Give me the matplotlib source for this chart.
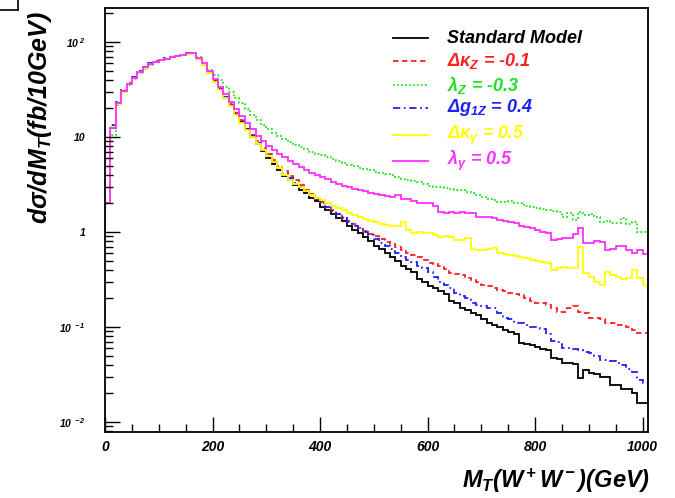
import numpy as np
import matplotlib
matplotlib.use("Agg")
import matplotlib.pyplot as plt
from matplotlib.lines import Line2D

plt.rcParams['font.family'] = ['Liberation Sans', 'DejaVu Sans']
plt.rcParams['font.weight'] = 'bold'
plt.rcParams['font.style'] = 'italic'
plt.rcParams['mathtext.fontset'] = 'custom'
plt.rcParams['mathtext.rm'] = 'Liberation Sans:italic:bold'
plt.rcParams['mathtext.it'] = 'Liberation Sans:italic:bold'
plt.rcParams['mathtext.bf'] = 'Liberation Sans:italic:bold'

# 10 GeV bins, 0 - 1010 GeV
bin_edges = np.arange(0, 1011, 10)

sm = [2.0, 12.5, 22.8, 30.5, 36, 42, 48, 54, 58.7, 61.6, 64.6, 67, 69.5, 71.5, 73, 76, 77,
      66, 57, 47, 39, 32, 26, 21.5, 17.5, 14.5, 12, 10, 8.4, 7.1, 6.0, 5.2, 4.5, 3.9, 3.5,
      3.1, 2.8, 2.55, 2.3, 2.1, 1.85, 1.7, 1.55, 1.42, 1.3, 1.15, 1.05, 0.97, 0.89, 0.8,
      0.72, 0.66, 0.6, 0.55, 0.5, 0.44, 0.41, 0.38, 0.32, 0.30, 0.27, 0.26, 0.24, 0.22,
      0.19, 0.18, 0.16, 0.15, 0.14, 0.135, 0.12, 0.11, 0.105, 0.1, 0.093, 0.089, 0.085,
      0.068, 0.066, 0.065, 0.062, 0.058, 0.057, 0.047, 0.046, 0.042, 0.042, 0.041, 0.029,
      0.035, 0.033, 0.032, 0.03, 0.03, 0.0245, 0.0245, 0.0225, 0.0225, 0.02, 0.016, 0.016]

dkz = [2.0, 12.5, 22.5, 30.5, 36.5, 42, 48.5, 54, 58, 62, 64.5, 67, 69, 71.5, 73.5, 76, 76.5,
       66, 57, 48, 39.5, 32.5, 26.5, 22, 18, 15, 12.6, 10.6, 9.0, 7.7, 6.6, 5.7, 5.0, 4.4,
       3.9, 3.5, 3.1, 2.8, 2.5, 2.25, 2.05, 1.85, 1.7, 1.55, 1.42, 1.3, 1.2, 1.1, 1.03,
       0.96, 0.9, 0.84, 0.79, 0.74, 0.69, 0.64, 0.6, 0.57, 0.54, 0.51, 0.47, 0.46, 0.44,
       0.41, 0.37, 0.36, 0.35, 0.33, 0.31, 0.30, 0.28, 0.27, 0.26, 0.245, 0.24, 0.23, 0.22,
       0.215, 0.2, 0.19, 0.18, 0.18, 0.17, 0.16, 0.145, 0.145, 0.16, 0.165, 0.145, 0.14,
       0.125, 0.125, 0.12, 0.11, 0.11, 0.105, 0.105, 0.1, 0.093, 0.087, 0.087]

lz = [2.0, 10.5, 21.5, 29.5, 35.5, 41, 47, 52.5, 57.5, 61, 64, 66.5, 69, 71, 73, 75.5, 77,
      69, 60, 51, 45, 40, 34, 30, 26, 23, 19.5, 17, 15, 13.4, 12, 11, 10.3, 9.5, 8.9,
      8.2, 7.8, 7.4, 7.0, 6.7, 6.4, 6.1, 5.9, 5.6, 5.3, 5.1, 4.9, 4.75, 4.6, 4.5, 4.3,
      4.2, 4.05, 3.95, 3.8, 3.65, 3.5, 3.45, 3.36, 3.2, 3.05, 3.0, 2.97, 2.9, 2.85, 2.8,
      2.77, 2.65, 2.55, 2.45, 2.35, 2.25, 2.15, 2.07, 2.05, 2.1, 2.0, 2.02, 1.9, 1.85,
      1.79, 1.75, 1.7, 1.65, 1.62, 1.45, 1.6, 1.34, 1.62, 1.5, 1.55, 1.45, 1.27, 1.3,
      1.25, 1.25, 1.4, 1.2, 1.27, 1.0, 1.0]

dg1z = [2.0, 13.5, 23.5, 31, 37, 43, 49.5, 55, 59.5, 62.5, 65, 67.5, 70, 72, 73.5, 76, 76.5,
        66, 57, 47.5, 39, 32, 26.5, 21.5, 17.7, 14.7, 12.2, 10.2, 8.6, 7.3, 6.2, 5.4, 4.7,
        4.1, 3.7, 3.3, 3.0, 2.7, 2.45, 2.25, 2.0, 1.85, 1.68, 1.55, 1.43, 1.28, 1.17, 1.08,
        1.0, 0.92, 0.84, 0.77, 0.71, 0.66, 0.6, 0.55, 0.51, 0.48, 0.44, 0.42, 0.38, 0.34,
        0.3, 0.28, 0.26, 0.23, 0.21, 0.2, 0.18, 0.17, 0.165, 0.16, 0.16, 0.14, 0.125, 0.12,
        0.11, 0.11, 0.105, 0.1, 0.1, 0.095, 0.085, 0.072, 0.07, 0.06, 0.06, 0.058, 0.057,
        0.055, 0.053, 0.05, 0.045, 0.045, 0.044, 0.042, 0.04, 0.036, 0.034, 0.028, 0.026]

dkg = [2.0, 12.8, 22.5, 30, 36, 42, 48, 53.5, 58.5, 61.5, 64.5, 67, 69, 71, 73, 75.5, 76.5,
       66, 57, 47, 38, 31, 25.5, 21, 17.2, 14.2, 11.8, 9.9, 8.4, 7.3, 6.3, 5.5, 4.7, 4.0,
       3.5, 3.2, 2.95, 2.7, 2.45, 2.3, 2.15, 2.0, 1.9, 1.8, 1.7, 1.6, 1.5, 1.45, 1.38,
       1.32, 1.27, 1.22, 1.19, 1.17, 1.15, 1.28, 1.05, 0.97, 1.0, 0.98, 0.97, 0.93, 0.89,
       0.9, 0.88, 0.82, 0.83, 0.86, 0.66, 0.65, 0.64, 0.66, 0.68, 0.6, 0.58, 0.57, 0.56,
       0.55, 0.53, 0.51, 0.5, 0.48, 0.47, 0.4, 0.42, 0.43, 0.42, 0.42, 0.69, 0.37, 0.34,
       0.3, 0.28, 0.38, 0.35, 0.34, 0.32, 0.33, 0.4, 0.33, 0.28]

lg = [2.0, 12.3, 22.6, 30.5, 36, 42, 48, 54, 58.5, 61.5, 64.5, 67, 69.5, 71.5, 73, 76, 77,
      68, 60, 50, 41, 34, 28.5, 23.5, 19.5, 16.5, 14, 12, 10.3, 9.0, 8.0, 7.3, 6.6, 6.1,
      5.6, 5.2, 4.8, 4.5, 4.2, 4.0, 3.8, 3.6, 3.4, 3.2, 3.05, 2.95, 2.85, 2.75, 2.7, 2.6,
      2.5, 2.45, 2.4, 2.35, 2.45, 2.25, 2.2, 2.1, 2.02, 2.0, 2.0, 1.9, 1.62, 1.6, 1.62,
      1.6, 1.62, 1.6, 1.6, 1.45, 1.45, 1.45, 1.4, 1.35, 1.3, 1.27, 1.25, 1.15, 1.12, 1.1,
      1.05, 1.0, 0.97, 0.82, 0.85, 0.86, 0.86, 0.95, 1.1, 0.77, 0.77, 0.8, 0.79, 0.65,
      0.66, 0.72, 0.72, 0.65, 0.6, 0.65, 0.58]

series = [
    (sm, 'black', '-', 'Standard Model'),
    (dkz, '#ff2020', (0, (3, 2)), r'$\Delta\kappa_Z$ = -0.1'),
    (lz, '#20e020', (0, (1, 1.2)), r'$\lambda_Z$ = -0.3'),
    (dg1z, '#2020ff', (0, (4, 2, 1, 2)), r'$\Delta g_{1Z}$ = 0.4'),
    (dkg, '#ffff00', '-', r'$\Delta\kappa_\gamma$ = 0.5'),
    (lg, '#ff30ff', '-', r'$\lambda_\gamma$ = 0.5'),
]
legend_rows = [38, 61, 85, 108, 135, 161]  # pixel rows of legend entries

fig = plt.figure(figsize=(6.75, 4.98), dpi=100)
ax = fig.add_axes([105 / 675, 1 - 432 / 498, 543 / 675, 424 / 498])

for vals, col, ls, lab in series:
    ax.stairs(vals, bin_edges, baseline=1.0, color=col, linestyle=ls, linewidth=1.3)

ax.set_yscale('log')
ax.set_xlim(0, 1010)
ax.set_ylim(0.00785, 228)

ax.set_yticks([1e-2, 1e-1, 1, 10, 100])
ax.set_yticklabels([r'$10^{\ -2}$', r'$10^{\ -1}$', '1', '10', r'$10^{\ 2}$'], fontsize=7.5)
ax.set_xticks([0, 200, 400, 600, 800, 1000])
ax.set_xticks(np.arange(0, 1001, 50), minor=True)
ax.tick_params(axis='x', labelsize=10, pad=6)
ax.tick_params(which='both', direction='in', top=False, right=False, width=1)
ax.tick_params(which='major', length=11)
ax.tick_params(which='minor', length=5.5)
ax.tick_params(axis='y', which='major', pad=14)
ax.yaxis.set_minor_formatter(matplotlib.ticker.NullFormatter())
for sp in ax.spines.values():
    sp.set_linewidth(1.3)

# legend drawn by hand, no frame
for (vals, col, ls, lab), py in zip(series, legend_rows):
    fy = 1 - py / 498
    fig.add_artist(Line2D([393 / 675, 428 / 675], [fy, fy], color=col, linestyle=ls,
                          linewidth=1.3))
    fig.text(447 / 675, fy, lab, color=col, fontsize=13, va='center', ha='left')

fig.text(40 / 675, 1 - 118 / 498, r'd$\sigma$/dM$_T$(fb/10GeV)', rotation=90,
         fontsize=18, ha='center', va='center')
fig.text(650 / 675, 1 - 481 / 498, r'M$_T$(W$^+$W$^-$)(GeV)', fontsize=17,
         ha='right', va='center')

# corner fragment of a box in the top-left
fig.add_artist(Line2D([0, 18 / 675], [1 - 10 / 498, 1 - 10 / 498], color='black', linewidth=1.2))
fig.add_artist(Line2D([18 / 675, 18 / 675], [1, 1 - 10 / 498], color='black', linewidth=1.2))

fig.savefig('out.png', dpi=100)
